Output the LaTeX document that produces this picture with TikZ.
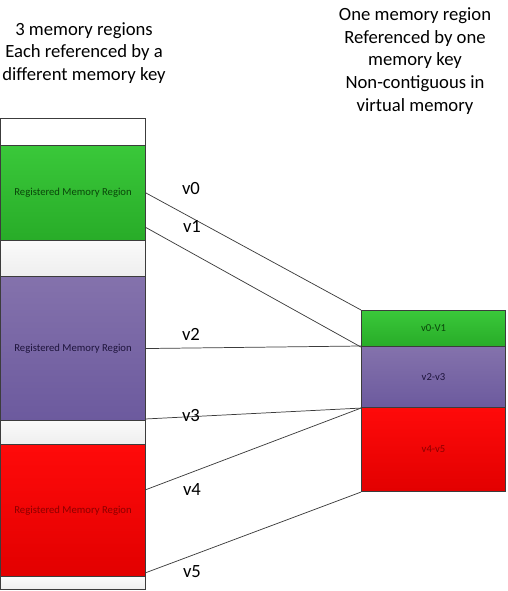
\documentclass[tikz,border=0pt]{standalone}
\usepackage{fontspec}
\setmainfont{Carlito}
\definecolor{grtop}{RGB}{58,200,58}
\definecolor{grbot}{RGB}{40,172,40}
\definecolor{putop}{RGB}{132,114,172}
\definecolor{pubot}{RGB}{108,90,158}
\definecolor{retop}{RGB}{255,10,10}
\definecolor{rebot}{RGB}{226,0,0}
\definecolor{ltop}{RGB}{250,250,250}
\definecolor{lbot}{RGB}{238,238,238}
\definecolor{edge}{RGB}{60,60,60}
\definecolor{gtext}{RGB}{10,70,10}
\definecolor{ptext}{RGB}{30,20,60}
\definecolor{rtext}{RGB}{140,0,0}
\begin{document}
\begin{tikzpicture}[x=0.75pt,y=-0.75pt,
  seg/.style={draw=edge,line width=0.8pt,inner sep=0pt,anchor=north west,font=\fontsize{8}{9}\selectfont},
  lseg/.style={seg,minimum width=145*0.75pt},
  rseg/.style={seg,minimum width=144*0.75pt},
  green/.style={top color=grtop,bottom color=grbot,text=gtext},
  purple/.style={top color=putop,bottom color=pubot,text=ptext},
  red/.style={top color=retop,bottom color=rebot,text=rtext},
  light/.style={top color=ltop,bottom color=lbot},
  conn/.style={draw=edge,line width=0.55pt},
  vlab/.style={font=\fontsize{14}{16}\selectfont},
  head/.style={align=center,font=\fontsize{14}{17}\selectfont}]
\useasboundingbox (0,0) rectangle (507,591);
% left column
\node[lseg,fill=white,minimum height=27*0.75pt] (lw1) at (0,118) {};
\node[lseg,green,minimum height=95*0.75pt] (lg) at (0,145) {Registered Memory Region};
\node[lseg,light,minimum height=36*0.75pt] (lw2) at (0,240) {};
\node[lseg,purple,minimum height=144*0.75pt] (lp) at (0,276) {Registered Memory Region};
\node[lseg,light,minimum height=24*0.75pt] (lw3) at (0,420) {};
\node[lseg,red,minimum height=132*0.75pt] (lr) at (0,444) {Registered Memory Region};
\node[lseg,light,minimum height=13*0.75pt] (lw4) at (0,576) {};
% right column
\node[rseg,green,minimum height=36*0.75pt] (rg) at (361,310) {v0-V1};
\node[rseg,purple,minimum height=61*0.75pt] (rp) at (361,346) {v2-v3};
\node[rseg,red,minimum height=84*0.75pt] (rr) at (361,407) {v4-v5};
% connector start points
\coordinate (s1) at (145,227);
\coordinate (s3) at (145,419);
\coordinate (s4) at (145,490);
\coordinate (s5) at (145,573);
\draw[conn] (lg.east) -- (rg.north west);
\draw[conn] (s1) -- (rg.south west);
\draw[conn] (lp.east) -- (rp.north west);
\draw[conn] (s3) -- (rp.south west);
\draw[conn] (s4) -- (rp.south west);
\draw[conn] (s5) -- (rr.south west);
% labels
\node[vlab] (l0) at (191,189) {v0};
\node[vlab] (l1) at (192,226) {v1};
\node[vlab] (l2) at (191,334) {v2};
\node[vlab] (l3) at (191,416) {v3};
\node[vlab] (l4) at (192,490) {v4};
\node[vlab] (l5) at (192,572) {v5};
% headers
\node[head] (h1) at (84,53) {3 memory regions\\Each referenced by a\\different memory key};
\node[head] (h2) at (415,61) {One memory region\\Referenced by one\\memory key\\Non-contiguous in\\virtual memory};
\end{tikzpicture}
\end{document}
